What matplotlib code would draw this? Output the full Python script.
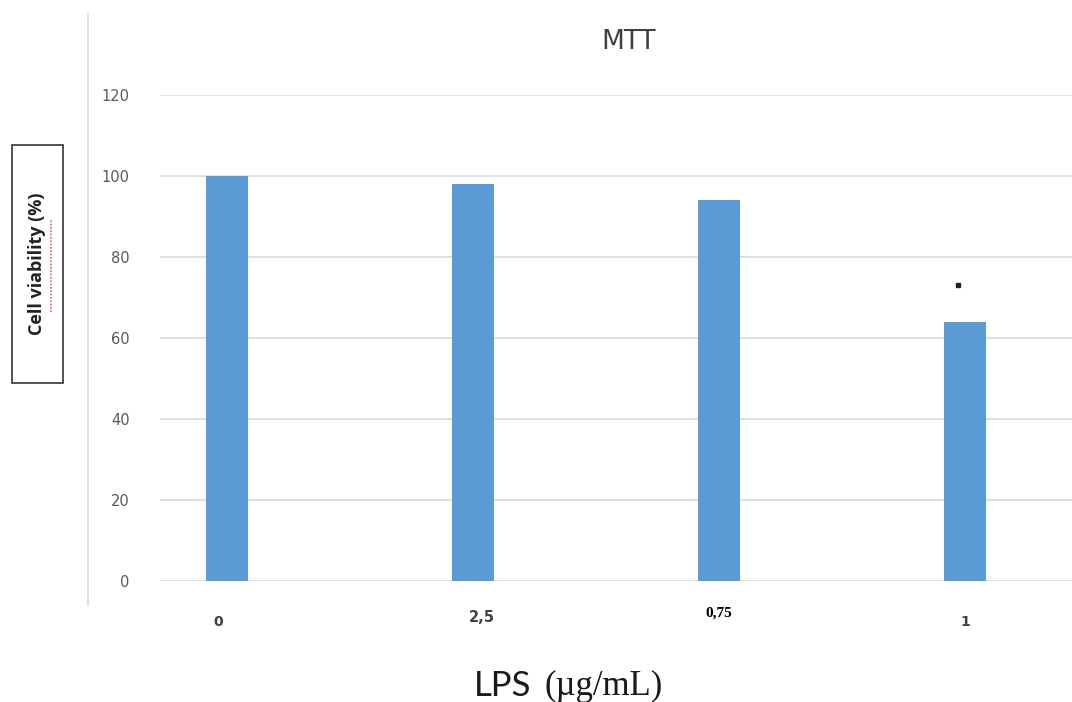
import matplotlib.pyplot as plt
from matplotlib.patches import Rectangle
from matplotlib.lines import Line2D

categories = ["0", "2,5", "0,75", "1"]
values = [100, 98, 94, 64]
sig_marker_value = 73
yticks = [0, 20, 40, 60, 80, 100, 120]

W, H = 1072, 702
fig = plt.figure(figsize=(W / 100, H / 100), dpi=100)
ax = fig.add_axes([160 / W, 1 - 581 / H, (W - 160) / W, (581 - 95) / H])

x = list(range(len(categories)))
ax.bar(x, values, width=0.17, color="#5b9bd5", zorder=3)
ax.set_ylim(0, 120)
ax.set_xlim(-0.272, 3.435)
ax.set_yticks(yticks)
ax.set_yticklabels([str(v) for v in yticks], color="#595959", fontsize=10.5)
ax.tick_params(axis="y", length=0, pad=22)
ax.set_xticks([])
ax.grid(axis="y", color="#d9d9d9", linewidth=1.2, zorder=0)
for s in ax.spines.values():
    s.set_visible(False)

# significance dot
ax.plot([2.97], [sig_marker_value], marker="s", markersize=3, color="#222222", zorder=4)

# x tick labels (drawn as text, mixed styling as in the original)
label_offsets = [-0.035, 0.035, 0.0, 0.0]
label_fonts = [("DejaVu Sans", "bold", "#404040", 10), ("Liberation Sans Narrow", "bold", "#404040", 10.5),
               ("Liberation Serif", "bold", "#000000", 11), ("DejaVu Sans", "bold", "#404040", 10)]
label_y = [-10, -9, -8, -10]
for i, lab in enumerate(categories):
    fam, wt, col, fs = label_fonts[i]
    ax.text(i + label_offsets[i], label_y[i], lab, ha="center", va="center",
            fontsize=fs, family=[fam, "DejaVu Sans"], fontweight=wt, color=col, clip_on=False)

# title
fig.text(629 / W, 1 - 42 / H, "MTT", ha="center", va="center", fontsize=19, color="#404040")

# x label (sans "LPS", serif unit)
fig.text(531 / W, 1 - 686 / H, "LPS", ha="right", va="center", fontsize=25,
         family="Lato", color="#1a1a1a")
fig.text(544 / W, 1 - 686 / H, "(µg/mL)", ha="left", va="center", fontsize=25,
         family="Liberation Serif", color="#1a1a1a")

# y label box
fig.patches.append(Rectangle((12 / W, 1 - 383 / H), 51 / W, 238 / H, transform=fig.transFigure,
                             fill=False, edgecolor="#333333", linewidth=1.2))
fig.text(37 / W, 1 - 264 / H, "Cell viability (%)", ha="center", va="center", rotation=90,
         fontsize=13, fontweight="bold", color="#222222", family="Open Sans")
# spell-check underline
fig.lines.append(Line2D([51 / W, 51 / W], [1 - 312 / H, 1 - 220 / H], transform=fig.transFigure,
                        color="#e06060", linewidth=1.2, linestyle=(0, (1, 1))))

# left vertical line
fig.lines.append(Line2D([88 / W, 88 / W], [1 - 605 / H, 1 - 14 / H], transform=fig.transFigure,
                        color="#d9d9d9", linewidth=1.2))

fig.savefig("out.png", dpi=100)
